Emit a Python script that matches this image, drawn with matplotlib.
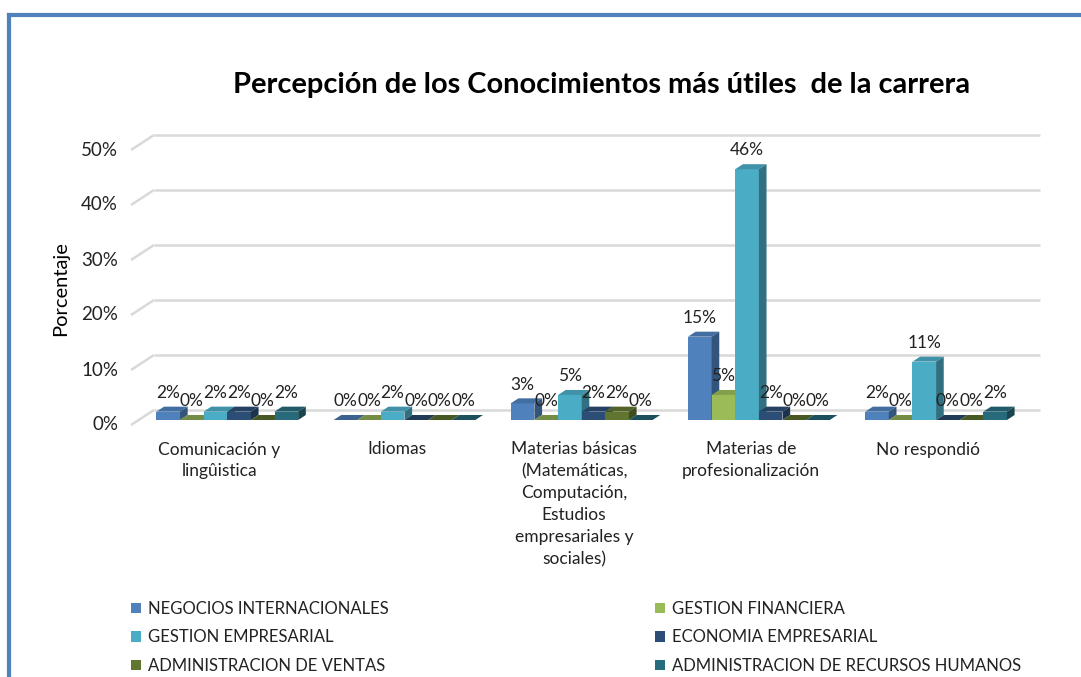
import matplotlib
matplotlib.use("Agg")
import matplotlib.pyplot as plt
from matplotlib.patches import Polygon, Patch
from matplotlib.lines import Line2D
import numpy as np

plt.rcParams['font.family'] = ['Lato', 'DejaVu Sans']

categories = ["Comunicación y\nlingûistica", "Idiomas",
              "Materias básicas\n(Matemáticas,\nComputación,\nEstudios\nempresariales y\nsociales)",
              "Materias de\nprofesionalización", "No respondió"]
series_names = ["NEGOCIOS INTERNACIONALES", "GESTION FINANCIERA", "GESTION EMPRESARIAL",
                "ECONOMIA EMPRESARIAL", "ADMINISTRACION DE VENTAS",
                "ADMINISTRACION DE RECURSOS HUMANOS"]
negocios_internacionales = [1.52, 0.0, 3.03, 15.15, 1.52]
gestion_financiera = [0.0, 0.0, 0.0, 4.55, 0.0]
gestion_empresarial = [1.52, 1.52, 4.55, 45.6, 10.61]
economia_empresarial = [1.52, 0.0, 1.52, 1.52, 0.0]
administracion_ventas = [0.0, 0.0, 1.52, 0.0, 0.0]
administracion_rrhh = [1.52, 0.0, 0.0, 0.0, 1.52]
series_values = [negocios_internacionales, gestion_financiera, gestion_empresarial,
                 economia_empresarial, administracion_ventas, administracion_rrhh]
colors = ["#4F81BD", "#9BBB59", "#4BACC6", "#2C4D75", "#5F7530", "#276A7C"]
yticks = [0, 10, 20, 30, 40, 50]
ytick_labels = ["0%", "10%", "20%", "30%", "40%", "50%"]

W, H = 1081, 677
fig = plt.figure(figsize=(W / 100, H / 100), dpi=100)
fig.patch.set_facecolor("white")

# plot front plane in pixels
x_left, x_right = 131, 1017
y_zero, y_top = 425, 150
ax = fig.add_axes([x_left / W, (H - y_zero) / H, (x_right - x_left) / W, (y_zero - y_top) / H])
ax.set_xlim(-0.5, 4.5)
ax.set_ylim(0, 50)
ax.axis("off")

ux = 5.0 / (x_right - x_left)      # data units per pixel (x)
uy = 50.0 / (y_zero - y_top)       # data units per pixel (y)
DX, DY = 23 * ux, 15 * uy          # total depth offset
fx, fy = DX / 3, DY / 3            # bar front offset
bx, by = 2 * DX / 3, 2 * DY / 3    # bar back offset

grid_col = "#D9D9D9"
for t, lab in zip(yticks, ytick_labels):
    ax.plot([-0.5, -0.5 + DX], [t, t + DY], color=grid_col, lw=1.8, zorder=1, clip_on=False,
            solid_capstyle="butt")
    ax.plot([-0.5 + DX, 4.5 + DX], [t + DY, t + DY], color=grid_col, lw=1.8, zorder=1,
            clip_on=False, solid_capstyle="butt")
    ax.text(-0.5 - 13 * ux, t, lab, ha="right", va="center", fontsize=13.5, color="#222222")


def shade(c, f):
    c = np.array(matplotlib.colors.to_rgb(c))
    return tuple(np.clip(c * f, 0, 1))


n = len(series_values)
width = 0.8 / n
z = 2
for ci in range(len(categories)):
    for si in range(n):
        v = series_values[si][ci]
        col = colors[si]
        x0 = ci - 0.4 + si * width
        # front face
        ax.bar(x0 + fx, v, width=width, bottom=fy, align="edge", color=col, lw=0, zorder=z)
        # top
        top = Polygon([(x0 + fx, v + fy), (x0 + fx + width, v + fy),
                       (x0 + bx + width, v + by), (x0 + bx, v + by)],
                      closed=True, fc=shade(col, 0.85 if v > 0 else 0.75), ec="none", zorder=z)
        ax.add_patch(top)
        side = Polygon([(x0 + fx + width, fy), (x0 + fx + width, v + fy),
                        (x0 + bx + width, v + by), (x0 + bx + width, by)],
                       closed=True, fc=shade(col, 0.65), ec="none", zorder=z)
        ax.add_patch(side)
        z += 1
        ax.annotate(f"{v:.0f}%", (x0 + fx + width / 2, v + fy), xytext=(0, 13.5),
                    textcoords="offset points", ha="center", va="center",
                    fontsize=12.5, color="#222222", zorder=200)

# category labels
for ci, cat in enumerate(categories):
    ax.text(ci, -3.0, cat, ha="center", va="top", fontsize=12.5,
            color="#222222", linespacing=1.45)

# title & y label
fig.text(602 / W, 1 - 85 / H, "Percepción de los Conocimientos más útiles  de la carrera",
         ha="center", va="center", fontsize=20.9, fontweight="bold", color="black")
fig.text(61 / W, 1 - 289 / H, "Porcentaje", rotation=90, ha="center", va="center",
         fontsize=14.5, color="black")

# legend
handles = [Patch(facecolor=c, edgecolor="none") for c in colors]
order = [0, 2, 4, 1, 3, 5]
leg = fig.legend([handles[i] for i in order], [series_names[i] for i in order],
                 ncol=2, loc="upper left", bbox_to_anchor=(116 / W, 1 - 586 / H),
                 frameon=False, fontsize=12, handlelength=0.6, handleheight=0.6,
                 handletextpad=0.4, labelspacing=0.75, columnspacing=16.0)
for txt in leg.get_texts():
    txt.set_color("#222222")

# blue frame
fig.add_artist(Line2D([9 / W, 9 / W], [0, 1 - 15 / H], color="#4F81BD", lw=3,
                      transform=fig.transFigure, solid_capstyle="projecting"))
fig.add_artist(Line2D([9 / W, 1], [1 - 15 / H, 1 - 15 / H], color="#4F81BD", lw=3,
                      transform=fig.transFigure, solid_capstyle="projecting"))

fig.savefig("out.png", dpi=100, facecolor="white")
